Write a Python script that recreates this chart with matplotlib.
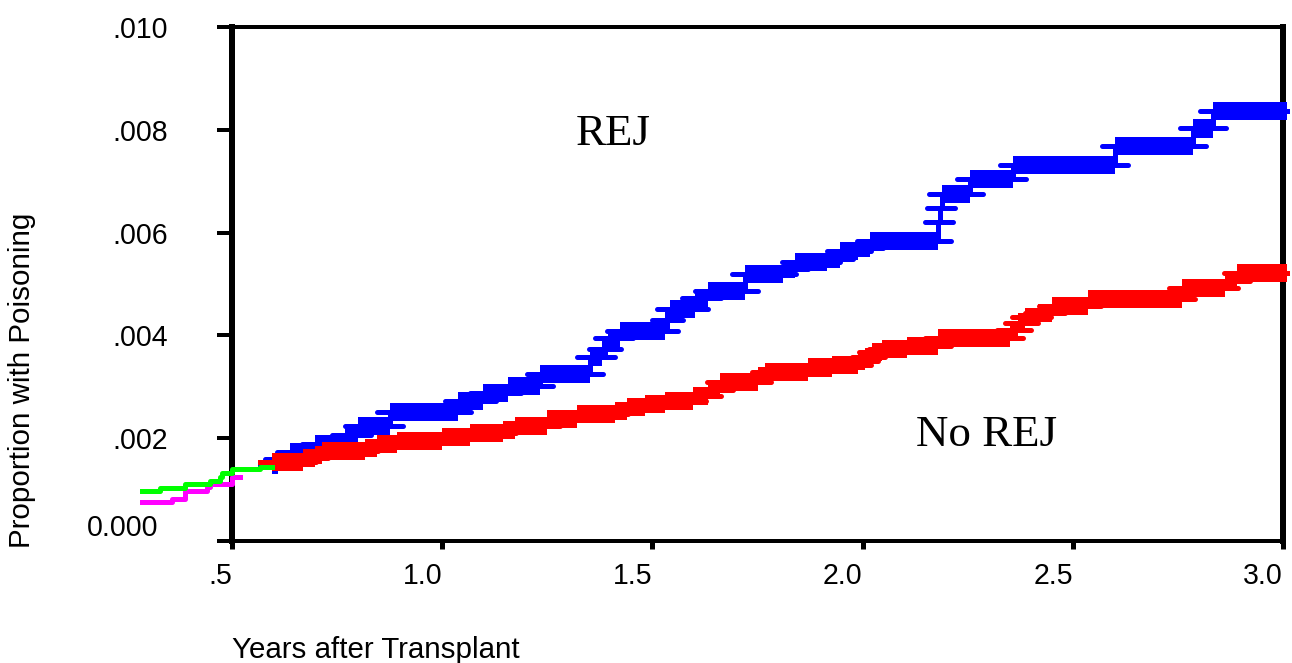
import matplotlib
matplotlib.use('Agg')
import matplotlib.pyplot as plt
from matplotlib.markers import MarkerStyle

# step curves (years, cumulative proportion)
rej_t = [0.567, 0.595, 0.609, 0.638, 0.697, 0.769, 0.80, 0.876, 1.038, 1.097,
         1.157, 1.233, 1.352, 1.38, 1.394, 1.423, 1.53, 1.542, 1.601, 1.632,
         1.72, 1.81, 1.84, 1.915, 1.946, 1.989, 2.018, 2.18, 2.184, 2.188,
         2.256, 2.358, 2.60, 2.786, 2.834, 3.01]
rej_y = [0.00143, 0.00148, 0.00160, 0.00173, 0.00189, 0.00206, 0.00224, 0.00251, 0.00272, 0.00288,
         0.00302, 0.00325, 0.00358, 0.00374, 0.00395, 0.00409, 0.00430, 0.00451, 0.00473, 0.00486,
         0.00519, 0.00529, 0.00543, 0.00549, 0.00564, 0.00570, 0.00584, 0.00620, 0.00648, 0.00675,
         0.00704, 0.00732, 0.00768, 0.00803, 0.00837, 0.00837]

norej_t = [0.567, 0.595, 0.669, 0.697, 0.714, 0.816, 0.845, 0.892, 1.0, 1.066,
           1.145, 1.173, 1.249, 1.32, 1.411, 1.44, 1.482, 1.53, 1.597, 1.632,
           1.66, 1.751, 1.768, 1.87, 1.927, 1.989, 2.006, 2.022, 2.046, 2.106,
           2.18, 2.35, 2.37, 2.386, 2.417, 2.45, 2.536, 2.76, 2.862, 2.89, 3.01]
norej_y = [0.00154, 0.00154, 0.00161, 0.00167, 0.00175, 0.00181, 0.00189, 0.00195, 0.00202, 0.00210,
           0.00216, 0.00224, 0.00237, 0.00247, 0.00253, 0.00261, 0.00267, 0.00272, 0.00282, 0.00294,
           0.00309, 0.00321, 0.00329, 0.00338, 0.00342, 0.00350, 0.00358, 0.00368, 0.00374, 0.00379,
           0.00395, 0.00410, 0.00425, 0.00436, 0.00444, 0.00457, 0.00471, 0.00492, 0.00506, 0.00521, 0.00521]

green_t = [0.286, 0.329, 0.388, 0.448, 0.471, 0.476, 0.5, 0.567, 0.595]
green_y = [0.00098, 0.00103, 0.00111, 0.00117, 0.00125, 0.00132, 0.00140, 0.00144, 0.00144]

mag_t = [0.286, 0.357, 0.372, 0.388, 0.44, 0.448, 0.5, 0.519]
mag_y = [0.00076, 0.00082, 0.00082, 0.00097, 0.00105, 0.00111, 0.00125, 0.00125]

xticks = [0.5, 1.0, 1.5, 2.0, 2.5, 3.0]
xlabels = ['.5', '1.0', '1.5', '2.0', '2.5', '3.0']
yticks = [0.0, 0.002, 0.004, 0.006, 0.008, 0.010]
ylabels = ['', '.002', '.004', '.006', '.008', '.010']

plt.rcParams['font.family'] = 'Liberation Sans'

W, H = 1292, 663
fig = plt.figure(figsize=(W / 72, H / 72), dpi=72)
ax = fig.add_axes([232 / W, 1 - 541 / H, (1283 - 232) / W, (541 - 27) / H])

BAND = 0.00018   # half height of the censor-mark band
arm = MarkerStyle('_', capstyle='round')


def km(t, y, color):
    ax.step(t, y, where='post', color=color, lw=5, clip_on=False, zorder=3)
    lo = [v - BAND for v in y[1:]]
    hi = [v + BAND for v in y[1:]]
    ax.fill_between(t[1:], lo, hi, step='post', color=color, lw=0, clip_on=False, zorder=3)
    # arms of the censor crosses at each step
    ax.plot(t[2:-1], y[1:-2], ls='none', marker=arm, color=color, ms=26, mew=5, clip_on=False, zorder=3)
    ax.plot(t[2:-1], y[2:-1], ls='none', marker=arm, color=color, ms=26, mew=5, clip_on=False, zorder=3)


km(rej_t, rej_y, '#0000ff')
km(norej_t, norej_y, '#ff0000')
ax.step(mag_t, mag_y, where='post', color='#ff00ff', lw=5, clip_on=False, zorder=4)
ax.step(green_t, green_y, where='post', color='#00ff00', lw=5, clip_on=False, zorder=4)

ax.set_xlim(0.5, 3.0)
ax.set_ylim(0, 0.010)

for s in ['left', 'right']:
    ax.spines[s].set_linewidth(6)
for s in ['top', 'bottom']:
    ax.spines[s].set_linewidth(4)

ax.set_xticks(xticks)
ax.set_xticklabels(xlabels, fontsize=28.5)
for lab in ax.get_xticklabels():
    lab.set_horizontalalignment('right')
ax.set_yticks(yticks)
ax.set_yticklabels(ylabels, fontsize=28.5)
ax.tick_params(axis='y', direction='out', length=15, width=4, pad=49)
ax.tick_params(axis='x', direction='out', length=8, width=5, pad=13)

ax.annotate('0.000', xy=(0, 0), xycoords='axes fraction', xytext=(-74, 13),
            textcoords='offset points', ha='right', va='center', fontsize=28.5)

ax.text(1.4075, 0.0077, 'REJ', family='Liberation Serif', fontsize=45, ha='center', va='baseline')
ax.text(2.2947, 0.00185, 'No REJ', family='Liberation Serif', fontsize=45, ha='center', va='baseline')

fig.text(232 / W, 1 - 650 / H, 'Years after Transplant', fontsize=29.5, ha='left', va='center')
fig.text(22 / W, 1 - 380 / H, 'Proportion with Poisoning', fontsize=29.5, rotation=90,
         ha='center', va='center')

fig.savefig('out.png', dpi=72)
